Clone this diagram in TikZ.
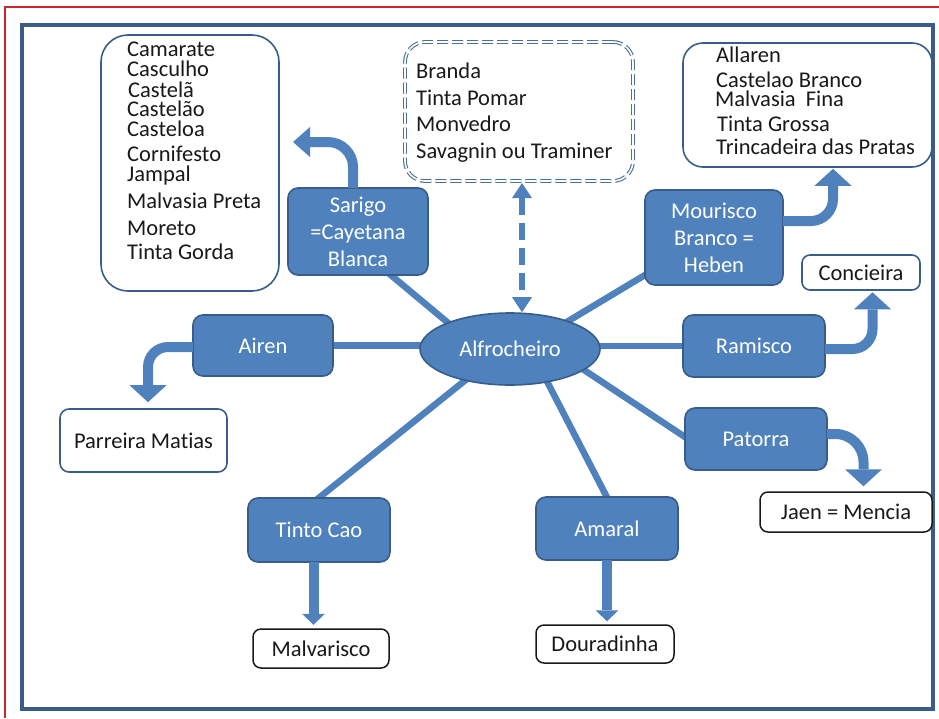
\documentclass[tikz,border=0pt]{standalone}
\usepackage{fontspec}
\setmainfont{Carlito}[Ligatures={NoCommon}]
\usetikzlibrary{arrows.meta,backgrounds,calc,shapes.geometric}
\definecolor{bfill}{RGB}{79,129,189}
\definecolor{bdark}{RGB}{56,93,138}
\definecolor{frameblue}{RGB}{59,92,135}
\definecolor{redline}{RGB}{205,40,50}
\definecolor{txt}{RGB}{25,25,25}
\begin{document}
\begin{tikzpicture}[x=1pt,y=-1pt,
  every node/.style={font=\fontsize{22.5}{27}\selectfont},
  bluebox/.style={draw=bdark, line width=1.6pt, fill=bfill, text=white, rounded corners=10pt, align=center, inner sep=0pt},
  whitebox/.style={draw=bdark, line width=1.6pt, fill=white, text=txt, rounded corners=9pt, inner sep=0pt},
  blackbox/.style={draw=txt, line width=1.5pt, fill=white, text=txt, rounded corners=8pt, inner sep=0pt},
  dashbox/.style={draw=bdark!90, line width=1.1pt, double=white, double distance=1.6pt, dash pattern=on 11pt off 4pt, rounded corners=20pt, inner sep=0pt},
  listtext/.style={anchor=base west, inner sep=0pt, text=txt},
  conn/.style={draw=bfill, line width=6.5pt},
  bentarrow/.style={draw=bfill, line width=10pt, -{Triangle[width=37pt,length=17pt,line width=0pt]}},
  downarrow/.style={draw=bfill, line width=10pt, -{Triangle[width=23pt,length=11pt,line width=0pt]}},
  dasharrow/.style={draw=bfill, line width=6pt, dash pattern=on 17pt off 8pt,
    {Triangle[width=20pt,length=15pt,line width=0pt]}-{Triangle[width=20pt,length=15pt,line width=0pt]}}
]
\useasboundingbox (0,0) rectangle (939,718);
% frames
\draw[redline, line width=1.2pt] (5,718) -- (5,7) -- (939,7);
\draw[frameblue, line width=3.5pt] (22,25) rectangle (933,709);

% list boxes
\node[whitebox, rounded corners=27pt, minimum width=178pt, minimum height=256pt] (tl) at (190,163) {};
\node[dashbox, minimum width=228pt, minimum height=139pt] (dbx) at (519,111.5) {};
\node[whitebox, rounded corners=20pt, minimum width=249pt, minimum height=124pt] (tr) at (807.5,105) {};

\node[listtext] (tl1) at (127,56) {Camarate};
\node[listtext] (tl2) at (127,76) {Casculho};
\node[listtext] (tl3) at (128,97) {Castelã};
\node[listtext] (tl4) at (127,116.5) {Castelão};
\node[listtext] (tl5) at (127,136.5) {Casteloa};
\node[listtext] (tl6) at (127,161.5) {Cornifesto};
\node[listtext] (tl7) at (127,181) {Jampal};
\node[listtext] (tl8) at (127,208) {Malvasia Preta};
\node[listtext] (tl9) at (127,235) {Moreto};
\node[listtext] (tl10) at (127,259) {Tinta Gorda};

\node[listtext] (dc1) at (416,78.3) {Branda};
\node[listtext] (dc2) at (416,105) {Tinta Pomar};
\node[listtext] (dc3) at (416,131.7) {Monvedro};
\node[listtext] (dc4) at (416,158.3) {Savagnin ou Traminer};

\node[listtext] (tr1) at (716,62.7) {Allaren};
\node[listtext] (tr2) at (716,87.3) {Castelao Branco};
\node[listtext] (tr3) at (715,106.7) {Malvasia\ \ Fina};
\node[listtext] (tr4) at (717,131.7) {Tinta Grossa};
\node[listtext] (tr5) at (716,154) {Trincadeira das Pratas};

% blue nodes
\node[bluebox, minimum width=140pt, minimum height=87pt] (sar) at (358,231.5) {Sarigo\\=Cayetana\\Blanca};
\node[bluebox, minimum width=138pt, minimum height=95pt] (mou) at (714,237.5) {Mourisco\\Branco =\\Heben};
\node[bluebox, minimum width=140pt, minimum height=61pt] (air) at (263,345.5) {Airen};
\node[bluebox, minimum width=142pt, minimum height=62pt] (ram) at (754,346) {Ramisco};
\node[bluebox, minimum width=142pt, minimum height=62pt] (pat) at (756,439) {Patorra};
\node[bluebox, minimum width=142pt, minimum height=64pt] (tc) at (319,530) {Tinto Cao};
\node[bluebox, minimum width=142pt, minimum height=63pt] (ama) at (607,528.5) {Amaral};
\node[ellipse, draw=bdark, line width=1.6pt, fill=bfill, text=white, minimum width=180pt, minimum height=72pt, inner sep=0pt] (ell) at (510,349) {Alfrocheiro};

% white leaf nodes
\node[whitebox, minimum width=167pt, minimum height=63pt] (pm) at (143.5,440.5) {Parreira Matias};
\node[whitebox, rounded corners=8pt, minimum width=118pt, minimum height=35pt] (conc) at (861,272.5) {Concieira};
\node[blackbox, minimum width=172pt, minimum height=40pt] (jaen) at (846,512) {Jaen = Mencia};
\node[blackbox, minimum width=136pt, minimum height=39pt] (malv) at (321,648.5) {Malvarisco};
\node[blackbox, minimum width=138pt, minimum height=38pt] (dou) at (605,644) {Douradinha};

% connectors
\begin{scope}[on background layer]
\draw[conn] ($(sar)+(22,34.5)$) -- ($(ell)+(-39,-7)$);
\draw[conn] ($(mou)+(-54,28.5)$) -- ($(ell)+(35,-14)$);
\draw[conn] (air.center) -- (air.center -| ell.center);
\draw[conn] (ram.center) -- (ram.center -| ell.center);
\draw[conn] ($(pat)+(-56,8)$) -- ($(ell)+(47,3)$);
\draw[conn] ($(ama)+(5,-21.5)$) -- ($(ell)+(28,15)$);
\draw[conn] ($(tc)+(-9,-25)$) -- ($(ell)+(-22,13)$);
\end{scope}

% dashed double arrow
\draw[dasharrow] ($(dbx.south)+(3,1.5)$) -- ($(ell.north)+(12,0)$);

% bent arrows
\coordinate (sartip) at (293,142);
\draw[bentarrow, -{Triangle[width=30pt,length=17pt,line width=0pt]}, rounded corners=25pt] ($(sar.north)+(-5,1)$) |- (sartip);
\draw[bentarrow, rounded corners=22pt] ($(mou.east)+(-1,-16.5)$) -| ($(tr.south)+(25.5,1)$);
\draw[bentarrow, rounded corners=20pt] ($(ram.east)+(-1,3)$) -| ($(conc.south)+(11.5,1.5)$);
\draw[bentarrow, rounded corners=28pt] ($(pat.east)+(-1,-5)$) -| ($(jaen.north)+(17.5,-5)$);
\draw[bentarrow, rounded corners=20pt] ($(air.west)+(1,1.5)$) -| ($(pm.north)+(4.5,-6)$);

% straight arrows
\draw[downarrow] ($(tc.south)+(-5.5,-1)$) -- ($(malv.north)+(-7.5,-3.5)$);
\draw[downarrow] ($(ama.south)+(0,-1)$) -- ($(dou.north)+(2,-3)$);
\end{tikzpicture}
\end{document}
